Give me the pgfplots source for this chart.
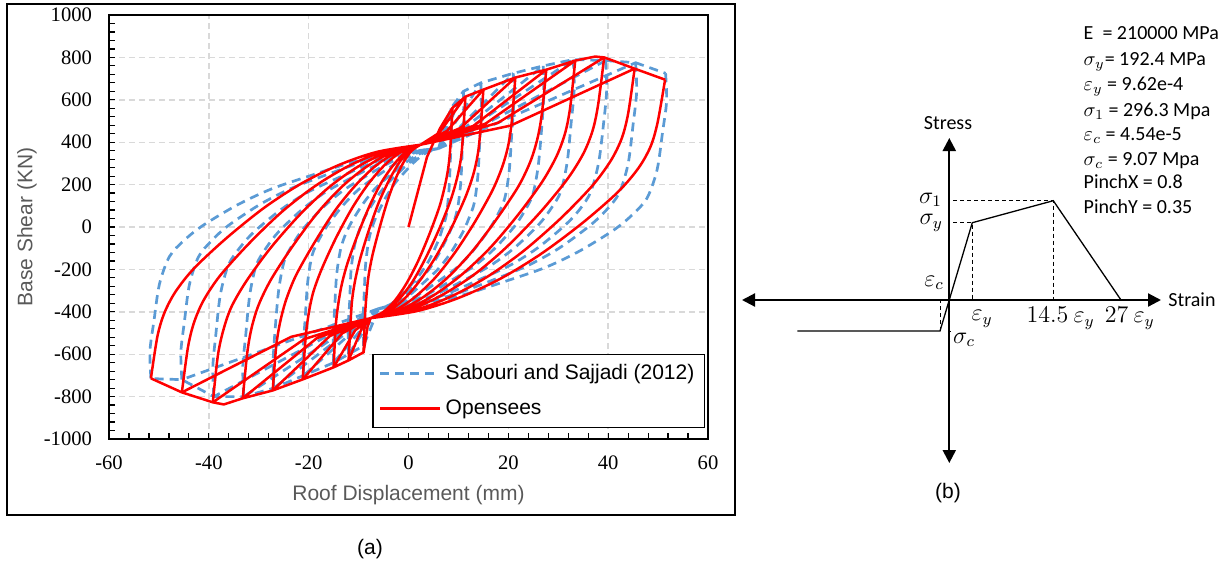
\documentclass[border=0pt]{standalone}
\usepackage{pgfplots}
\pgfplotsset{compat=1.18}
\usetikzlibrary{arrows.meta}
\usepackage{fontspec}
\setmainfont{Carlito}
\newfontfamily\arialf{Liberation Sans}
\newfontfamily\tnrf{Liberation Serif}
\definecolor{exblue}{HTML}{5B9BD5}
\definecolor{labgray}{HTML}{595959}
\definecolor{gridgray}{HTML}{D9D9D9}
\begin{document}
\begin{tikzpicture}
\useasboundingbox (0pt,0pt) rectangle (614pt,-281.5pt);
\draw[line width=1.2pt] (3.5pt,-2pt) rectangle (367.5pt,-257.5pt);
\begin{axis}[
  at={(54.5pt,-219.5pt)}, anchor=south west,
  scale only axis, width=299.5pt, height=212pt,
  xmin=-60, xmax=60, ymin=-1000, ymax=1000,
  xtick={-60,-40,-20,0,20,40,60},
  xticklabels={-60,-40,-20,0,20,40,60},
  ytick={-1000,-800,-600,-400,-200,0,200,400,600,800,1000},
  yticklabels={-1000,-800,-600,-400,-200,0,200,400,600,800,1000},
  minor x tick num=4, minor y tick num=4,
  tick align=inside, tick pos=left,
  major tick length=2.8pt, minor tick length=2.8pt,
  every tick/.style={black, line width=0.6pt},
  grid=major, major grid style={gridgray, line width=0.7pt, dash pattern=on 3pt off 2pt},
  axis line style={line width=1pt},
  ticklabel style={font=\tnrf\fontsize{10.3}{12}\selectfont},
  xticklabel shift=5pt, yticklabel shift=5pt,
  xlabel={Roof Displacement (mm)}, ylabel={Base Shear (KN)},
  label style={font=\arialf\fontsize{10.5}{12}\selectfont, text=labgray},
  xlabel style={at={(axis description cs:0.5,-0.132)}, anchor=center},
  ylabel style={at={(axis description cs:-0.137,0.5)}, anchor=center},
  unbounded coords=jump,
  legend cell align=left,
  legend style={at={(axis description cs:0.995,0.026)}, anchor=south east,
    draw=black, line width=0.6pt, fill=white,
    font=\arialf\fontsize{10.5}{12}\selectfont,
    row sep=4.5pt, inner xsep=3pt, inner ysep=3pt},
  legend image code/.code={\draw[#1] (0pt,0pt) -- (30pt,0pt);},
]
% ---- Sabouri and Sajjadi (2012): unloading branches
\addplot[exblue, line width=1.35pt, dash pattern=on 4.5pt off 3pt, smooth, tension=0.5] coordinates {
(8.5,560)(8.6,447)(8.4,324)(8.1,173)(7.6,59)(6.8,-7)(5.9,-68)(4.2,-154)(2.4,-220)(0.4,-276)(-1.7,-328)(-3.7,-366)(-6,-385) (nan,nan)
(11,640)(11.1,517)(10.8,384)(10.5,220)(9.9,97)(9.1,25)(7.9,-42)(5.9,-134)(3.9,-206)(1.5,-267)(-0.9,-324)(-3.3,-365)(-6,-385) (nan,nan)
(14.5,680)(14.6,552)(14.3,414)(13.9,243)(13.2,116)(12.1,41)(10.8,-28)(8.4,-124)(5.9,-199)(3.0,-263)(0.2,-321)(-2.7,-364)(-6,-385) (nan,nan)
(21,725)(21.1,592)(20.7,448)(20.2,270)(19.3,137)(17.9,59)(16.1,-13)(12.9,-113)(9.7,-191)(5.9,-257)(2.1,-318)(-1.7,-363)(-6,-385) (nan,nan)
(27,760)(27.1,623)(26.7,474)(26.0,291)(24.9,153)(23.2,73)(21.1,-1)(17.1,-105)(13.1,-185)(8.5,-253)(3.9,-316)(-0.7,-362)(-6,-385) (nan,nan)
(33,790)(33.2,649)(32.6,496)(31.8,308)(30.5,167)(28.5,85)(26.0,9)(21.3,-97)(16.6,-179)(11.2,-250)(5.7,-315)(0.2,-362)(-6,-385) (nan,nan)
(39.5,785)(39.7,645)(39.1,493)(38.1,305)(36.5,165)(34.3,83)(31.3,7)(25.9,-98)(20.4,-180)(14.0,-250)(7.7,-315)(1.3,-362)(-6,-385) (nan,nan)
(45.5,775)(45.7,636)(45.0,485)(44.0,299)(42.2,160)(39.6,79)(36.2,4)(30.1,-101)(23.9,-182)(16.7,-252)(9.5,-315)(2.2,-362)(-6,-385) (nan,nan)
(51.5,725)(51.7,592)(50.9,448)(49.8,270)(47.8,137)(44.9,59)(41.2,-13)(34.3,-113)(27.4,-191)(19.3,-257)(11.3,-318)(3.2,-363)(-6,-385) (nan,nan)
(-9,-560)(-9.1,-448)(-8.9,-328)(-8.6,-179)(-8.0,-67)(-7.3,-2)(-6.3,58)(-4.5,142)(-2.7,207)(-0.6,263)(1.5,314)(3.6,351)(6,370) (nan,nan)
(-12,-600)(-12.1,-484)(-11.8,-358)(-11.5,-202)(-10.8,-86)(-9.9,-18)(-8.8,45)(-6.6,132)(-4.4,200)(-1.9,258)(0.6,312)(3.1,351)(6,370) (nan,nan)
(-15,-640)(-15.1,-519)(-14.8,-388)(-14.4,-226)(-13.6,-105)(-12.6,-34)(-11.2,32)(-8.7,123)(-6.2,193)(-3.2,254)(-0.3,309)(2.6,350)(6,370) (nan,nan)
(-21,-700)(-21.1,-572)(-20.7,-433)(-20.2,-261)(-19.3,-133)(-17.9,-58)(-16.1,12)(-12.9,108)(-9.7,183)(-5.9,247)(-2.1,306)(1.7,349)(6,370) (nan,nan)
(-27,-760)(-27.1,-624)(-26.7,-478)(-26.0,-297)(-24.9,-161)(-23.2,-82)(-21.1,-9)(-17.1,93)(-13.1,172)(-8.5,240)(-3.9,302)(0.7,347)(6,370) (nan,nan)
(-33,-800)(-33.2,-660)(-32.6,-508)(-31.8,-320)(-30.5,-180)(-28.5,-98)(-26.0,-22)(-21.3,83)(-16.6,165)(-11.2,235)(-5.7,300)(-0.2,347)(6,370) (nan,nan)
(-39,-800)(-39.2,-660)(-38.6,-508)(-37.7,-320)(-36.1,-180)(-33.8,-98)(-30.9,-22)(-25.5,83)(-20.1,165)(-13.8,235)(-7.5,300)(-1.2,347)(6,370) (nan,nan)
(-45.4,-720)(-45.6,-589)(-44.9,-448)(-43.9,-273)(-42.1,-142)(-39.5,-66)(-36.2,5)(-30.0,103)(-23.8,179)(-16.6,245)(-9.4,305)(-2.2,348)(6,370) (nan,nan)
(-51.6,-715)(-51.8,-585)(-51.0,-444)(-49.9,-270)(-47.9,-140)(-45.0,-64)(-41.2,7)(-34.3,104)(-27.4,180)(-19.3,245)(-11.3,305)(-3.2,348)(6,370)
};
\addlegendentry{Sabouri and Sajjadi (2012)}
% ---- Sabouri and Sajjadi (2012): reloading lines and envelope
\addplot[exblue, line width=1.35pt, dash pattern=on 4.5pt off 3pt, forget plot] coordinates {
(6,370)(8.5,560)(11,640)(14.5,680)(21,725)(27,760)(33,790)(39.5,785)(45.5,775)(51.5,725) (nan,nan)
(6,370)(11,640) (nan,nan) (6,370)(14.5,680) (nan,nan) (6,370)(21,725) (nan,nan)
(6,370)(27,760) (nan,nan) (6,370)(33,790) (nan,nan) (6,370)(39.5,785) (nan,nan)
(6,370)(45.5,775) (nan,nan)
(-6,-385)(-9,-560)(-12,-600)(-15,-640)(-21,-700)(-27,-760)(-33,-800)(-39,-800)(-45.4,-720)(-51.6,-715) (nan,nan)
(-6,-385)(-12,-600) (nan,nan) (-6,-385)(-15,-640) (nan,nan) (-6,-385)(-21,-700) (nan,nan)
(-6,-385)(-27,-760) (nan,nan) (-6,-385)(-33,-800) (nan,nan) (-6,-385)(-39,-800) (nan,nan)
(-6,-385)(-45.4,-720)
};
% ---- Opensees: unloading branches
\addplot[red, line width=1.25pt, smooth, tension=0.5] coordinates {
(8.8,562)(8.4,383)(8.0,284)(7.3,195)(6.2,96)(4.2,-33)(1.9,-162)(-0.4,-266)(-2.7,-346)(-5.0,-400)(-7.6,-430) (nan,nan)
(11.4,615)(10.9,427)(10.5,322)(9.7,228)(8.4,124)(6.1,-12)(3.4,-148)(0.8,-258)(-1.9,-341)(-4.6,-399)(-7.6,-430) (nan,nan)
(15,648)(14.4,454)(13.9,346)(13.0,249)(11.4,141)(8.7,1)(5.5,-139)(2.3,-252)(-0.8,-338)(-4.0,-398)(-7.6,-430) (nan,nan)
(21.4,705)(20.7,501)(20.0,387)(18.8,285)(16.8,172)(13.3,24)(9.2,-124)(5.2,-243)(1.1,-334)(-3.0,-396)(-7.6,-430) (nan,nan)
(27.6,742)(26.7,531)(25.8,414)(24.4,308)(22.0,191)(17.7,39)(12.8,-114)(7.9,-237)(3.0,-330)(-2.0,-395)(-7.6,-430) (nan,nan)
(33.4,785)(32.4,566)(31.4,445)(29.7,336)(26.8,214)(21.9,56)(16.2,-102)(10.4,-230)(4.7,-327)(-1.0,-394)(-7.6,-430) (nan,nan)
(39.2,800)(38.0,579)(36.9,456)(35.0,345)(31.7,222)(26.1,62)(19.5,-98)(13.0,-227)(6.4,-325)(-0.1,-393)(-7.6,-430) (nan,nan)
(45.3,747)(44.0,535)(42.7,417)(40.5,312)(36.8,194)(30.5,41)(23.1,-112)(15.7,-236)(8.3,-330)(0.9,-395)(-7.6,-430) (nan,nan)
(51.4,695)(49.9,493)(48.5,380)(46.1,279)(42.0,166)(34.9,20)(26.6,-126)(18.4,-244)(10.1,-334)(1.8,-396)(-7.6,-430) (nan,nan)
(-9,-591)(-8.7,-415)(-8.4,-317)(-8.0,-229)(-7.2,-131)(-5.8,-4)(-4.2,124)(-2.6,227)(-1.0,305)(0.6,359)(2.4,388) (nan,nan)
(-12,-629)(-11.6,-446)(-11.3,-344)(-10.7,-253)(-9.7,-151)(-8.0,-19)(-6.0,113)(-3.9,220)(-1.9,302)(0.1,358)(2.4,388) (nan,nan)
(-15,-662)(-14.6,-473)(-14.1,-368)(-13.4,-274)(-12.2,-169)(-10.1,-32)(-7.7,105)(-5.3,215)(-2.8,299)(-0.4,357)(2.4,388) (nan,nan)
(-21.2,-719)(-20.6,-520)(-20.0,-409)(-19.1,-309)(-17.4,-199)(-14.6,-55)(-11.3,89)(-8.0,205)(-4.7,294)(-1.4,355)(2.4,388) (nan,nan)
(-27.2,-771)(-26.5,-562)(-25.7,-447)(-24.5,-342)(-22.5,-226)(-18.9,-76)(-14.8,75)(-10.6,197)(-6.5,290)(-2.3,353)(2.4,388) (nan,nan)
(-33.2,-808)(-32.3,-593)(-31.4,-473)(-30.0,-366)(-27.5,-246)(-23.2,-90)(-18.3,65)(-13.3,191)(-8.3,286)(-3.3,352)(2.4,388) (nan,nan)
(-39.2,-827)(-38.2,-608)(-37.1,-487)(-35.5,-378)(-32.5,-256)(-27.6,-98)(-21.7,60)(-15.9,188)(-10.1,285)(-4.3,352)(2.4,388) (nan,nan)
(-45.4,-780)(-44.2,-570)(-43.0,-453)(-41.1,-348)(-37.8,-231)(-32.0,-79)(-25.3,73)(-18.6,195)(-11.9,289)(-5.3,353)(2.4,388) (nan,nan)
(-51.6,-714)(-50.3,-516)(-48.9,-405)(-46.7,-306)(-43.0,-196)(-36.5,-53)(-28.9,91)(-21.4,206)(-13.8,294)(-6.2,355)(2.4,388)
};
\addlegendentry{Opensees}
% ---- Opensees: reloading lines and envelope
\addplot[red, line width=1.25pt, forget plot] coordinates {
(0,0)(3.7,330)(6.3,465)(8.8,562)(11.4,615)(15,648)(21.4,705)(27.6,742)(33.4,785)(37.4,804)(39.2,800)(45.3,747)(51.4,695) (nan,nan)
(2.4,388)(6.2,445)(11.4,615) (nan,nan)
(2.4,388)(7.7,453)(15,648) (nan,nan)
(2.4,388)(10.4,467)(21.4,705) (nan,nan)
(2.4,388)(13.0,477)(27.6,742) (nan,nan)
(2.4,388)(15.4,487)(33.4,785) (nan,nan)
(2.4,388)(17.9,491)(39.2,800) (nan,nan)
(2.4,388)(20.4,478)(45.3,747) (nan,nan)
(-7.6,-430)(-8.2,-470)(-9,-591)(-12,-629)(-15,-662)(-21.2,-719)(-27.2,-771)(-33.2,-808)(-37,-837)(-39.2,-827)(-45.4,-780)(-51.6,-714) (nan,nan)
(-7.6,-430)(-9.4,-480)(-12,-629) (nan,nan)
(-7.6,-430)(-10.7,-488)(-15,-662) (nan,nan)
(-7.6,-430)(-13.3,-502)(-21.2,-719) (nan,nan)
(-7.6,-430)(-15.8,-515)(-27.2,-771) (nan,nan)
(-7.6,-430)(-18.4,-525)(-33.2,-808) (nan,nan)
(-7.6,-430)(-20.9,-529)(-39.2,-827) (nan,nan)
(-7.6,-430)(-23.5,-518)(-45.4,-780)
};
\end{axis}
\node[font=\arialf\fontsize{10.5}{12}\selectfont] at (185pt,-274.5pt) {(a)};
% ---- parameter list
\begin{scope}[every node/.style={anchor=base west, inner sep=0pt, font=\fontsize{10}{12}\selectfont}]
\node at (541.65pt,-19.65pt) {E~~= 210000 MPa};
\node at (541.65pt,-32.5pt) {$\sigma_y$= 192.4 MPa};
\node at (541.65pt,-45.35pt) {$\varepsilon_y$ = 9.62e-4};
\node at (541.65pt,-58pt) {$\sigma_1$ = 296.3 Mpa};
\node at (541.65pt,-70.35pt) {$\varepsilon_c$ = 4.54e-5};
\node at (541.65pt,-82.85pt) {$\sigma_c$ = 9.07 Mpa};
\node at (541.65pt,-94.35pt) {PinchX = 0.8};
\node at (541.65pt,-106.65pt) {PinchY = 0.35};
\end{scope}
% ---- (b) schematic
\begin{axis}[
  at={(369.65pt,-235pt)}, anchor=south west,
  scale only axis, width=245pt, height=170pt,
  xmin=-210, xmax=280, ymin=-170, ymax=170,
  hide axis, clip=false,
]
\addplot[black, line width=1.1pt, {Triangle[length=6.5pt,width=6.5pt]}-{Triangle[length=6.5pt,width=6.5pt]}] coordinates {(-207.3,0)(211.7,0)};
\addplot[black, line width=1.1pt, {Triangle[length=6.5pt,width=6.5pt]}-{Triangle[length=6.5pt,width=6.5pt]}] coordinates {(0,-163)(0,162)};
\addplot[black, line width=0.65pt] coordinates {(-152,-31)(-9.3,-31)(23,77.3)(104,99.3)(171.7,0)};
\addplot[black, line width=0.5pt, dash pattern=on 2pt off 1.5pt] coordinates {(4,99.3)(104,99.3)(104,0)};
\addplot[black, line width=0.5pt, dash pattern=on 2pt off 1.5pt] coordinates {(4,77.3)(23,77.3)(23,0)};
\addplot[black, line width=0.5pt, dash pattern=on 2pt off 1.5pt] coordinates {(-9.3,-31)(-9.3,0)};
\addplot[black, line width=0.5pt] coordinates {(-1,-31)(2,-31)};
\node[font=\fontsize{11.5}{13}\selectfont, anchor=east, inner sep=1pt] at (axis cs:-5,100) {$\sigma_1$};
\node[font=\fontsize{11.5}{13}\selectfont, anchor=east, inner sep=1pt] at (axis cs:-4,77) {$\sigma_y$};
\node[font=\fontsize{11.5}{13}\selectfont] at (axis cs:-15.3,17) {$\varepsilon_c$};
\node[font=\fontsize{11.5}{13}\selectfont] at (axis cs:32.7,-19) {$\varepsilon_y$};
\node[font=\fontsize{11.5}{13}\selectfont] at (axis cs:111.2,-18.5) {$14.5\ \varepsilon_y$};
\node[font=\fontsize{11.5}{13}\selectfont] at (axis cs:180.4,-18.5) {$27\ \varepsilon_y$};
\node[font=\fontsize{11.5}{13}\selectfont] at (axis cs:14.7,-40) {$\sigma_c$};
\node[font=\fontsize{10}{12}\selectfont, anchor=west, inner sep=0pt] at (axis cs:218.7,0) {Strain};
\node[font=\fontsize{10}{12}\selectfont] at (axis cs:-1.3,177) {Stress};
\node[font=\arialf\fontsize{10.5}{12}\selectfont] at (axis cs:-1.3,-193) {(b)};
\end{axis}
\end{tikzpicture}
\end{document}
